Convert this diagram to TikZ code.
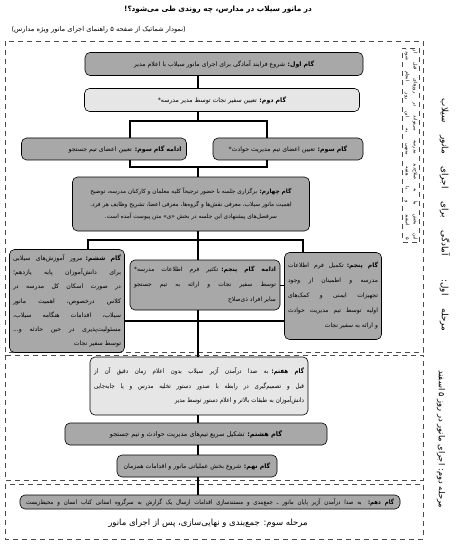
\documentclass[tikz,border=0pt]{standalone}
\usepackage{fontspec}
\newfontfamily\farsi[Script=Arabic]{DejaVu Sans}
\newfontfamily\farsin[Script=Arabic, FakeStretch=0.86]{DejaVu Sans}
\TeXXeTstate=1
\definecolor{boxdark}{HTML}{A8A8A8}
\definecolor{boxlight}{HTML}{E6E6E6}
\newcommand\faj[1]{\makebox[\hsize][s]{\spaceskip=0.3em plus 1fil#1}}
\newcommand\faw[2]{\makebox[#1][s]{\spaceskip=0.3em plus 1fil#2}}
\tikzset{
  gam/.style={draw, rounded corners=5pt, line width=0.6pt, inner sep=1pt,
    align=center, font=\farsi\fontsize{6.2}{14.5}\selectfont},
  gamdark/.style={gam, fill=boxdark},
  gamlight/.style={gam, fill=boxlight},
  link/.style={line width=1.3pt},
  stage/.style={dash pattern=on 5pt off 4pt, line width=0.8pt, draw=black!70},
  stagelabel/.style={font=\farsi\fontsize{8.8}{10}\selectfont, rotate=-90},
}
\begin{document}
\begin{tikzpicture}[x=1pt, y=-1pt]
        \useasboundingbox (0,0) rectangle (463,556);

        % titles
        \node[font=\farsi\bfseries\fontsize{7.3}{9}\selectfont] (title) at (218,10)
            {\beginR در مانور سیلاب در مدارس، چه روندی طی می‌شود؟!\endR};
        \node[font=\farsi\fontsize{6.7}{8}\selectfont, anchor=west] (subtitle) at (8,30)
            {\beginR (نمودار شماتیک از صفحه ۵ راهنمای اجرای مانور ویژه مدارس)\endR};

        % stage frames
        \draw[stage] (5,41) rectangle (423,352);
        \draw[stage] (5,355) rectangle (423,480);
        \draw[stage] (5,484) rectangle (423,539);

        % stage labels
        \node[stagelabel] (stage1) at (445,215)
            {\faw{232pt}{\beginR مرحله اول: آمادگی برای اجرای مانور سیلاب\endR}};
        \node[stagelabel, font=\farsi\fontsize{8.3}{10}\selectfont] (stage2) at (441,435)
            {\faw{130pt}{\beginR مرحله دوم: اجرای مانور در روز ۵ اسفند\endR}};
        \node[stagelabel, stage, draw, align=center, inner sep=2pt,
            font=\farsi\fontsize{4.8}{8}\selectfont] (note) at (411,145)
            {\faw{190pt}{\beginR این بخش بنا به صلاح‌دید مدرسه می‌تواند در روزهای قبل از\endR}\\
             \faw{190pt}{\beginR ۵ اسفند و یا هفته منتهی به این روز انجام شود.\endR}};
        \node[font=\farsi\fontsize{8.5}{10}\selectfont] (stage3) at (208,523)
            {\beginR مرحله سوم: جمع‌بندی و نهایی‌سازی، پس از اجرای مانور\endR};

        % axis of the chart
        \coordinate (axis) at (198,0);
        \coordinate (b3) at (130,0);
        \coordinate (a3) at (267,0);
        \coordinate (l6) at (88,0);
        \coordinate (r5) at (303,0);
        \coordinate (j1) at (198,121);
        \coordinate (j2) at (198,167);
        \coordinate (j3) at (198,240);
        \coordinate (j4) at (198,321);

        % steps
        \node[gamdark, minimum width=278pt, minimum height=23pt] (step1) at (224,64)
            {\beginR\textbf{گام اول:} شروع فرایند آمادگی برای اجرای مانور سیلاب با اعلام مدیر\endR};
        \node[gamlight, minimum width=275pt, minimum height=23pt] (step2) at (222,100)
            {\beginR\textbf{گام دوم:} تعیین سفیر نجات توسط مدیر مدرسه*\endR};
        \node[gamdark, minimum width=150pt, minimum height=22pt] (step3a) at (288,149)
            {\beginR\textbf{گام سوم:} تعیین اعضای تیم مدیریت حوادث*\endR};
        \node[gamdark, minimum width=165pt, minimum height=22pt, text width=155pt, align=right] (step3b) at (104,149)
            {\beginR\textbf{ادامه گام سوم:} تعیین اعضای تیم جستجو\endR};
        \node[gamdark, minimum width=237pt, minimum height=54pt, font=\farsi\fontsize{5.8}{12.5}\selectfont] (step4) at (191,204)
            {\beginR\textbf{گام چهارم:} برگزاری جلسه با حضور ترجیحاً کلیه معلمان و کارکنان مدرسه، توضیح\endR\\
             \beginR اهمیت مانور سیلاب، معرفی نقش‌ها و گروه‌ها، معرفی اعضا، تشریح وظایف هر فرد.\endR\\
             \beginR سرفصل‌های پیشنهادی این جلسه در بخش «ی» متن پیوست آمده است.\endR};
        \node[gamdark, minimum width=115pt, minimum height=103pt, text width=108pt, align=right,
            font=\farsi\fontsize{6.2}{14.2}\selectfont] (step6) at (67,301)
            {\faj{\beginR\textbf{گام ششم:} مرور آموزش‌های سیلابی\endR}\\
             \faj{\beginR برای دانش‌آموزان پایه یازدهم؛\endR}\\
             \faj{\beginR در صورت اسکان کل مدرسه در\endR}\\
             \faj{\beginR کلاس درخصوص، اهمیت مانور\endR}\\
             \faj{\beginR سیلاب، اقدامات هنگامه سیلاب،\endR}\\
             \faj{\beginR مسئولیت‌پذیری در حین حادثه و...\endR}\\
             \beginR توسط سفیر نجات\endR};
        \node[gamdark, minimum width=150pt, minimum height=50pt, text width=142pt, align=right,
            font=\farsi\fontsize{6}{15}\selectfont] (step5a) at (205,285)
            {\faj{\beginR\textbf{ادامه گام پنجم:} تکثیر فرم اطلاعات مدرسه*\endR}\\
             \faj{\beginR توسط سفیر نجات و ارائه به تیم جستجو\endR}\\
             \beginR سایر افراد ذی‌صلاح\endR};
        \node[gamdark, minimum width=97pt, minimum height=87pt, text width=90pt, align=right,
            font=\farsi\fontsize{6}{15}\selectfont] (step5b) at (333,296)
            {\faj{\beginR\textbf{گام پنجم:} تکمیل فرم اطلاعات\endR}\\
             \faj{\beginR مدرسه و اطمینان از وجود\endR}\\
             \faj{\beginR تجهیزات ایمنی و کمک‌های\endR}\\
             \faj{\beginR اولیه توسط تیم مدیریت حوادث\endR}\\
             \beginR و ارائه به سفیر نجات\endR};
        \node[gamlight, minimum width=218pt, minimum height=58pt, text width=210pt, align=right,
            font=\farsin\fontsize{6.4}{14.5}\selectfont] (step7) at (199,386)
            {\faj{\beginR\textbf{گام هفتم:} به صدا درآمدن آژیر سیلاب بدون اعلام زمان دقیق آن از\endR}\\
             \faj{\beginR قبل و تصمیم‌گیری در رابطه با صدور دستور تخلیه مدرس و یا جابه‌جایی\endR}\\
             \beginR دانش‌آموزان به طبقات بالاتر و اعلام دستور توسط مدیر\endR};
        \node[gamdark, minimum width=262pt, minimum height=22pt, font=\farsi\fontsize{6.5}{8}\selectfont] (step8) at (196,434)
            {\beginR\textbf{گام هشتم:} تشکیل سریع تیم‌های مدیریت حوادث و تیم جستجو\endR};
        \node[gamdark, minimum width=160pt, minimum height=22pt] (step9) at (197,466)
            {\beginR\textbf{گام نهم:} شروع بخش عملیاتی مانور و اقدامات همزمان\endR};
        \node[gamdark, minimum width=380pt, minimum height=14pt, font=\farsin\fontsize{6.3}{7}\selectfont] (step10) at (210,502)
            {\faw{368pt}{\beginR\textbf{گام دهم:} به صدا درآمدن آژیر پایان مانور ـ جمع‌بندی و مستندسازی اقدامات ارسال یک گزارش به سرگروه استانی کتاب انسان و محیط‌زیست\endR}};

        % connectors
        \draw[link] (step1.south -| axis) -- (step2.north -| axis);
        \draw[link] (step2.south -| axis) -- (j1);
        \draw[link] (step3b.north -| b3) |- (j1) -| (step3a.north -| a3);
        \draw[link] (step3b.south -| b3) |- (j2) -| (step3a.south -| a3);
        \draw[link] (j2) -- (step4.north -| axis);
        \draw[link] (step4.south -| axis) -- (step5a.north -| axis);
        \draw[link] (step6.north -| l6) |- (j3) -| (step5b.north -| r5);
        \draw[line width=0.5pt] (step5a.east) -- (step5a.east -| step5b.west);
        \draw[link] (step6.east |- j4) -- (step5b.west |- j4);
        \draw[link] (step5a.south -| axis) -- (step7.north -| axis);
        \draw[link] (step7.south -| axis) -- (step8.north -| axis);
        \draw[link] (step8.south -| axis) -- (step9.north -| axis);
        \draw[link] (step9.south -| axis) -- (step10.north -| axis);
    \end{tikzpicture}
\end{document}
